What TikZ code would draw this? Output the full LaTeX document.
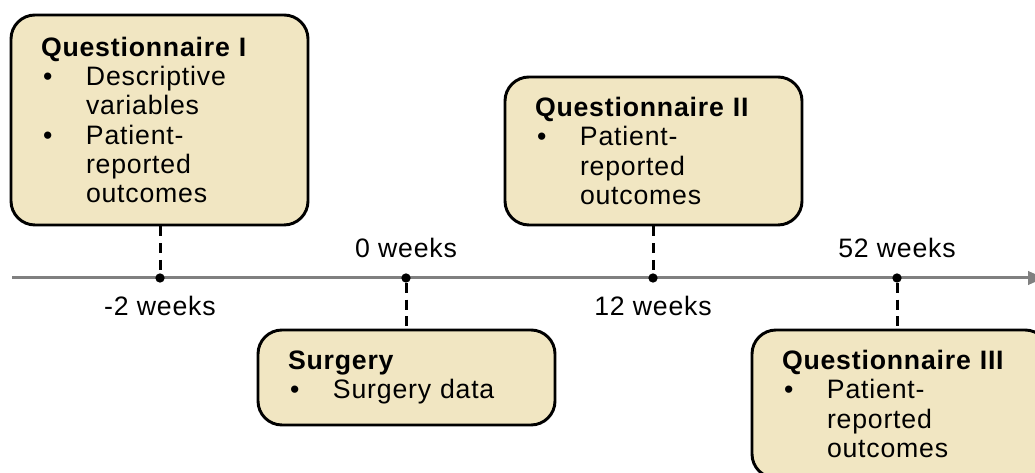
\documentclass[tikz,border=0pt]{standalone}
\usepackage{fontspec}
\setmainfont{Liberation Sans}[LetterSpace=3]
\usetikzlibrary{arrows.meta,positioning}
\definecolor{boxfill}{HTML}{F1E6C2}
\definecolor{axisgray}{HTML}{808080}
\newcommand{\bul}{\hspace*{1.5pt}\makebox[32.25pt][l]{\textbullet}}
\newcommand{\ind}{\hspace*{33.75pt}}

\begin{document}
\begin{tikzpicture}[x=0.75pt,y=-0.75pt]
  \tikzset{every node/.style={font=\fontsize{20pt}{22pt}\selectfont},
    event/.style={draw=black, line width=2.2pt, fill=boxfill, rounded corners=18pt,
      text width=177.75pt, inner xsep=22.5pt, inner ysep=0pt, align=left},
    tick/.style={circle, fill=black, inner sep=0pt, minimum size=7pt},
    link/.style={line width=2.25pt, dash pattern=on 7.5pt off 5pt}}
  \clip (0,0) rectangle (1035,473);

  % time axis
  \coordinate (start) at (12,278);
  \coordinate (end) at (1044,278);
  \draw[axisgray, line width=2.25pt, -{Triangle[length=12pt,width=10pt]}] (start) -- (end);

  \node[tick] (t1) at (160,278) {};
  \node[tick] (t2) at (406,278) {};
  \node[tick] (t3) at (653,278) {};
  \node[tick] (t4) at (897,278) {};

  \node[anchor=base] (w1) at (160,316) {-2 weeks};
  \node[anchor=base] (w2) at (406,258) {0 weeks};
  \node[anchor=base] (w3) at (653,316) {12 weeks};
  \node[anchor=base] (w4) at (897,258) {52 weeks};

  % events
  \node[event, minimum height=157.5pt] (q1) at (159.5,120) {\textbf{Questionnaire I}\\
    \bul Descriptive\\ \ind variables\\ \bul Patient-\\ \ind reported\\ \ind outcomes};
  \node[event, minimum height=111pt] (q2) at (653.5,151) {\textbf{Questionnaire II}\\
    \bul Patient-\\ \ind reported\\ \ind outcomes};
  \node[event, minimum height=71.25pt] (surg) at (406.5,377.5) {\textbf{Surgery}\\
    \bul Surgery data};
  \node[event, minimum height=111pt] (q3) at (900.5,404) {\textbf{Questionnaire III}\\
    \bul Patient-\\ \ind reported\\ \ind outcomes};

  \draw[link] (q1.south -| t1) -- (t1);
  \draw[link] (t2) -- (t2 |- surg.north);
  \draw[link] (q2.south -| t3) -- (t3);
  \draw[link] (t4) -- (t4 |- q3.north);
\end{tikzpicture}
\end{document}
